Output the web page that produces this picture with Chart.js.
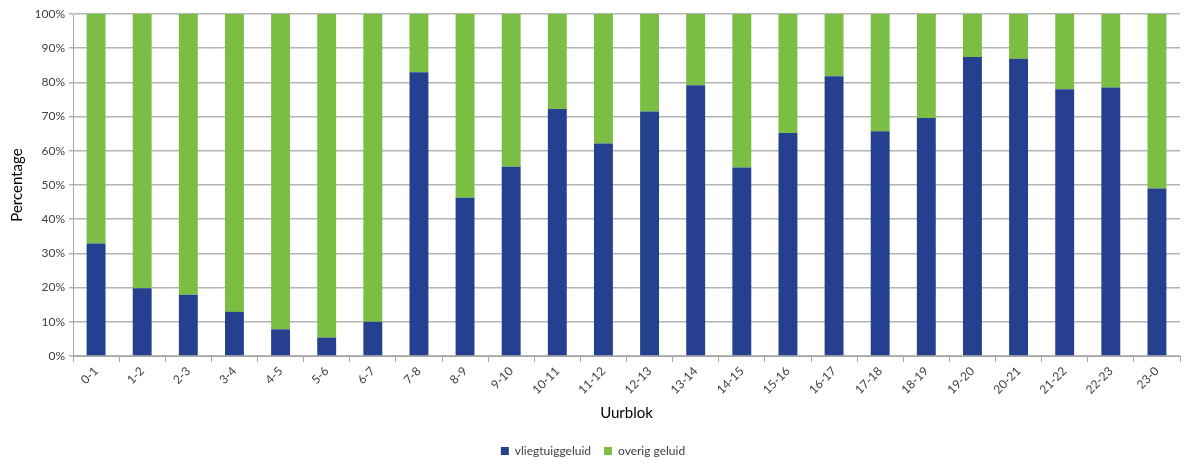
<!DOCTYPE html>
<html>
<head>
<meta charset="utf-8">
<script src="https://cdn.jsdelivr.net/npm/chart.js@4"></script>
<style>
  html, body { margin: 0; padding: 0; background: #fff; }
  #wrap { width: 1184px; height: 467px; }
</style>
</head>
<body>
<div id="wrap"><canvas id="c" width="1184" height="467"></canvas></div>
<script>
// Hour blocks of the day
const categories = ['0-1','1-2','2-3','3-4','4-5','5-6','6-7','7-8','8-9','9-10','10-11','11-12',
  '12-13','13-14','14-15','15-16','16-17','17-18','18-19','19-20','20-21','21-22','22-23','23-0'];

// Share of aircraft noise per hour block (%)
const vliegtuiggeluid = [32.9, 19.8, 17.9, 12.9, 7.8, 5.4, 10.0, 83.0, 46.3, 55.3, 72.2, 62.1,
  71.5, 79.2, 55.1, 65.2, 81.8, 65.7, 69.6, 87.4, 86.9, 78.0, 78.5, 49.0];

// Remaining (other) noise completes each block to 100 %
const overigGeluid = vliegtuiggeluid.map(v => +(100 - v).toFixed(1));

const yTicks = [0, 10, 20, 30, 40, 50, 60, 70, 80, 90, 100];

const FONT = 'Lato, "Open Sans", sans-serif';
const TEXT = '#404040';

new Chart(document.getElementById('c'), {
  type: 'bar',
  data: {
    labels: categories,
    datasets: [
      { label: 'vliegtuiggeluid', data: vliegtuiggeluid, backgroundColor: '#25408F',
        barPercentage: 0.41, categoryPercentage: 1.0 },
      { label: 'overig geluid', data: overigGeluid, backgroundColor: '#7ABF44',
        barPercentage: 0.41, categoryPercentage: 1.0 }
    ]
  },
  options: {
    responsive: false,
    animation: false,
    layout: { padding: { top: 14, right: 4, left: 6, bottom: 0 } },
    plugins: {
      tooltip: { enabled: false },
      legend: {
        position: 'bottom',
        labels: {
          font: { family: FONT, size: 12 },
          color: TEXT,
          boxWidth: 8, boxHeight: 8,
          padding: 13
        }
      }
    },
    scales: {
      x: {
        stacked: true,
        grid: { drawOnChartArea: false, drawTicks: true, tickLength: 6, color: '#a6a6a6', offset: true },
        border: { color: '#a6a6a6', width: 1 },
        ticks: { font: { family: FONT, size: 12 }, color: TEXT, minRotation: 45, maxRotation: 45, padding: 2 },
        title: { display: true, text: 'Uurblok', font: { family: FONT, size: 15 }, color: '#000', padding: { top: 4, bottom: 10 } },
        afterFit: s => { s.height = 76; }
      },
      y: {
        stacked: true,
        min: 0, max: 100,
        afterBuildTicks: s => { s.ticks = yTicks.map(v => ({ value: v })); },
        grid: { color: '#b4b4b4', lineWidth: 1.5, tickLength: 4, drawTicks: true },
        border: { color: '#a6a6a6', width: 1 },
        ticks: { font: { family: FONT, size: 12 }, color: TEXT, padding: 4, callback: v => v + '%' },
        title: { display: true, text: 'Percentage', font: { family: FONT, size: 15 }, color: '#000', padding: { top: 2, bottom: 4 } },
        afterFit: s => { s.width = 67; }
      }
    }
  }
});
</script>
</body>
</html>
